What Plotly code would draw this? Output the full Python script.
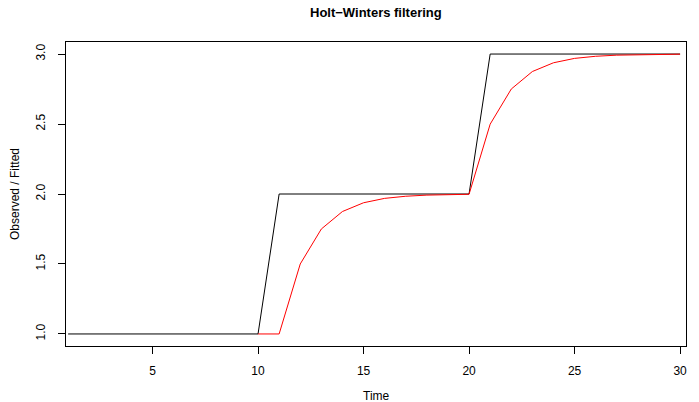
import plotly.graph_objects as go

time_obs = list(range(1, 31))
observed = [1]*10 + [2]*10 + [3]*10
time_fit = list(range(10, 31))
fitted = [1.0, 1.0, 1.5, 1.75, 1.875, 1.9375, 1.96875, 1.984, 1.992, 1.996, 1.998,
          2.499, 2.75, 2.875, 2.9375, 2.969, 2.984, 2.992, 2.996, 2.998, 2.999]
x_ticks = [5, 10, 15, 20, 25, 30]
y_ticks = [1.0, 1.5, 2.0, 2.5, 3.0]
y_tick_text = ["1.0", "1.5", "2.0", "2.5", "3.0"]

# page has an 8px body margin; figure sized to fit the 699x402 window
OFF = 8
W, H = 699 - OFF, 402 - OFF
L, R, T, B = 66 - OFF, 13, 42 - OFF, 56
fam = "Liberation Sans, Arial, sans-serif"

fig = go.Figure()
fig.add_trace(go.Scatter(x=time_obs, y=observed, mode="lines",
                         line=dict(color="black", width=1), showlegend=False))
fig.add_trace(go.Scatter(x=time_fit, y=fitted, mode="lines",
                         line=dict(color="red", width=1), showlegend=False))

font = dict(family=fam, size=12, color="black")
pw, ph = W - L - R, H - T - B
fig.update_layout(
    width=W, height=H,
    margin=dict(l=L, r=R, t=T, b=B, autoexpand=False),
    paper_bgcolor="white", plot_bgcolor="white",
    font=font,
    xaxis=dict(range=[0.9, 30.28], tickvals=x_ticks, ticks="outside", ticklen=7,
               tickcolor="black", showgrid=False, zeroline=False, automargin=False,
               showline=True, linecolor="black", linewidth=1, mirror=True,
               ticklabelstandoff=7),
    yaxis=dict(range=[0.914, 3.086], tickvals=y_ticks, ticktext=y_tick_text,
               tickangle=-90, ticks="outside", ticklen=7,
               tickcolor="black", showgrid=False, zeroline=False, automargin=False,
               showline=True, linecolor="black", linewidth=1, mirror=True,
               ticklabelstandoff=8),
    annotations=[
        dict(text="<b>Holt−Winters filtering</b>", xref="paper", yref="paper",
             x=0.5, y=1 + (42 - 13) / ph, xanchor="center", yanchor="middle",
             showarrow=False, font=dict(family=fam, size=13)),
        dict(text="Time", xref="paper", yref="paper",
             x=0.5, y=-(396 - 346) / ph, xanchor="center", yanchor="middle",
             showarrow=False, font=dict(family=fam, size=12)),
        dict(text="Observed / Fitted", xref="paper", yref="paper",
             x=-(66 - 15) / pw, y=0.5, xanchor="center", yanchor="middle",
             textangle=-90, showarrow=False, font=dict(family=fam, size=12)),
    ],
)
fig.write_html("out.html")
